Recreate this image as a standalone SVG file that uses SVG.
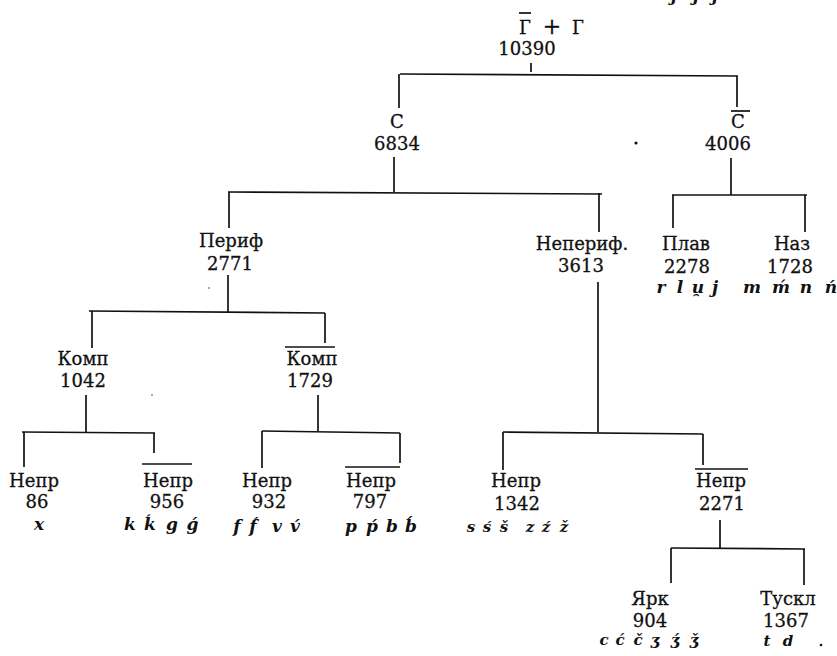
<svg xmlns="http://www.w3.org/2000/svg" width="837" height="656" viewBox="0 0 837 656">
<style>
.t{font-family:"DejaVu Serif","Liberation Serif",serif;font-size:18px;fill:#111;stroke:#111;stroke-width:0.3;text-anchor:middle}
.i{font-family:"DejaVu Serif","Liberation Serif",serif;font-size:17px;font-style:italic;font-weight:bold;fill:#111;text-anchor:middle}
.c line{stroke:#111;stroke-width:1.7}
.ob{stroke:#111;stroke-width:1.7}
</style>
<defs><clipPath id="topclip"><rect x="640" y="0" width="120" height="9"/></clipPath></defs>
<rect width="837" height="656" fill="#fff"/>
<g id="prev-line" clip-path="url(#topclip)"><text class="i" y="1"><tspan x="674">j</tspan><tspan x="696">j</tspan><tspan x="715">j</tspan></text></g>
<g class="c" id="connectors">
<line x1="531" y1="63" x2="531" y2="72"/>
<line x1="400" y1="74" x2="738" y2="76"/>
<line x1="399" y1="74" x2="399" y2="108"/>
<line x1="737" y1="76" x2="737" y2="107"/>
<line x1="394" y1="157" x2="394" y2="192"/>
<line x1="228" y1="192" x2="602" y2="194"/>
<line x1="229" y1="192" x2="229" y2="228"/>
<line x1="599" y1="193" x2="599" y2="232"/>
<line x1="731" y1="158" x2="731" y2="195"/>
<line x1="672" y1="195" x2="807" y2="195"/>
<line x1="673" y1="195" x2="673" y2="228"/>
<line x1="805" y1="195" x2="805" y2="232"/>
<line x1="228" y1="275" x2="228" y2="312"/>
<line x1="89" y1="311" x2="325" y2="313"/>
<line x1="92" y1="311" x2="92" y2="348"/>
<line x1="325" y1="313" x2="325" y2="343"/>
<line x1="86" y1="395" x2="86" y2="432"/>
<line x1="22" y1="432" x2="155" y2="433"/>
<line x1="24" y1="432" x2="24" y2="467"/>
<line x1="154" y1="433" x2="154" y2="453"/>
<line x1="318" y1="395" x2="318" y2="431"/>
<line x1="262" y1="431" x2="400" y2="433"/>
<line x1="262" y1="431" x2="262" y2="468"/>
<line x1="400" y1="433" x2="400" y2="463"/>
<line x1="598" y1="282" x2="598" y2="432"/>
<line x1="503" y1="432" x2="703" y2="434"/>
<line x1="503" y1="432" x2="503" y2="470"/>
<line x1="703" y1="434" x2="703" y2="465"/>
<line x1="720" y1="520" x2="720" y2="548"/>
<line x1="671" y1="548" x2="805" y2="549"/>
<line x1="671" y1="548" x2="671" y2="583"/>
<line x1="804" y1="549" x2="804" y2="585"/>
</g>
<g id="root"><line class="ob" x1="519" y1="13" x2="531" y2="13"/><text class="t" y="34"><tspan x="525">Г</tspan><tspan x="552" style="font-size:22px">+</tspan><tspan x="578">Г</tspan></text><text class="t" x="527" y="55">10390</text></g>
<g id="s"><text class="t" x="397" y="128">С</text><text class="t" x="397" y="150">6834</text></g>
<g id="s-bar"><line class="ob" x1="731" y1="111" x2="750" y2="111"/><text class="t" x="738" y="128">С</text><text class="t" x="728" y="150">4006</text></g>
<g id="perif"><text class="t" x="231" y="247">Периф</text><text class="t" x="230" y="270">2771</text></g>
<g id="neperif"><text class="t" x="582" y="250">Непериф.</text><text class="t" x="581" y="272">3613</text></g>
<g id="plav"><text class="t" x="686" y="250">Плав</text><text class="t" x="687" y="273">2278</text><text class="i" y="293"><tspan x="661">r</tspan><tspan x="680">l</tspan><tspan x="698">u̯</tspan><tspan x="715">j</tspan></text></g>
<g id="naz"><text class="t" x="792" y="250">Наз</text><text class="t" x="790" y="273">1728</text><text class="i" y="293"><tspan x="752">m</tspan><tspan x="781">ḿ</tspan><tspan x="806">n</tspan><tspan x="831">ń</tspan></text></g>
<g id="komp"><text class="t" x="83" y="365">Комп</text><text class="t" x="83" y="387">1042</text></g>
<g id="komp-bar"><line class="ob" x1="285" y1="347" x2="335" y2="347"/><text class="t" x="312" y="365">Комп</text><text class="t" x="310" y="387">1729</text></g>
<g id="nepr-86"><text class="t" x="34" y="487">Непр</text><text class="t" x="37" y="508">86</text><text class="i" x="39" y="530">x</text></g>
<g id="nepr-956"><line class="ob" x1="142" y1="464" x2="192" y2="464"/><text class="t" x="168" y="487">Непр</text><text class="t" x="167" y="508">956</text><text class="i" y="530"><tspan x="130">k</tspan><tspan x="150">ḱ</tspan><tspan x="172">g</tspan><tspan x="193">ǵ</tspan></text></g>
<g id="nepr-932"><text class="t" x="267" y="487">Непр</text><text class="t" x="269" y="508">932</text><text class="i" y="532"><tspan x="237">f</tspan><tspan x="253">f́</tspan><tspan x="277">v</tspan><tspan x="295">v́</tspan></text></g>
<g id="nepr-797"><line class="ob" x1="345" y1="467" x2="400" y2="467"/><text class="t" x="371" y="487">Непр</text><text class="t" x="370" y="508">797</text><text class="i" y="532"><tspan x="351">p</tspan><tspan x="372">ṕ</tspan><tspan x="392">b</tspan><tspan x="411">b́</tspan></text></g>
<g id="nepr-1342"><text class="t" x="516" y="487">Непр</text><text class="t" x="517" y="510">1342</text><text class="i" y="532" style="font-size:15px"><tspan x="471">s</tspan><tspan x="487">ś</tspan><tspan x="504">š</tspan><tspan x="530">z</tspan><tspan x="546">ź</tspan><tspan x="564">ž</tspan></text></g>
<g id="nepr-2271"><line class="ob" x1="695" y1="469" x2="748" y2="469"/><text class="t" x="721" y="487">Непр</text><text class="t" x="722" y="510">2271</text></g>
<g id="yark"><text class="t" x="650" y="605">Ярк</text><text class="t" x="650" y="627">904</text><text class="i" y="645" style="font-size:15px"><tspan x="604">c</tspan><tspan x="620">ć</tspan><tspan x="638">č</tspan><tspan x="655">ʒ</tspan><tspan x="675">ʒ́</tspan><tspan x="694">ǯ</tspan></text></g>
<g id="tuskl"><text class="t" x="788" y="605">Тускл</text><text class="t" x="786" y="627">1367</text><text class="i" y="646" style="font-size:15px"><tspan x="767">t</tspan><tspan x="788">d</tspan></text></g>
<g id="specks" fill="#111"><circle cx="636" cy="143" r="1.6"/><circle cx="821" cy="645" r="1.3"/><circle cx="209" cy="288" r="0.7"/><circle cx="152" cy="395" r="0.7"/></g>
</svg>
